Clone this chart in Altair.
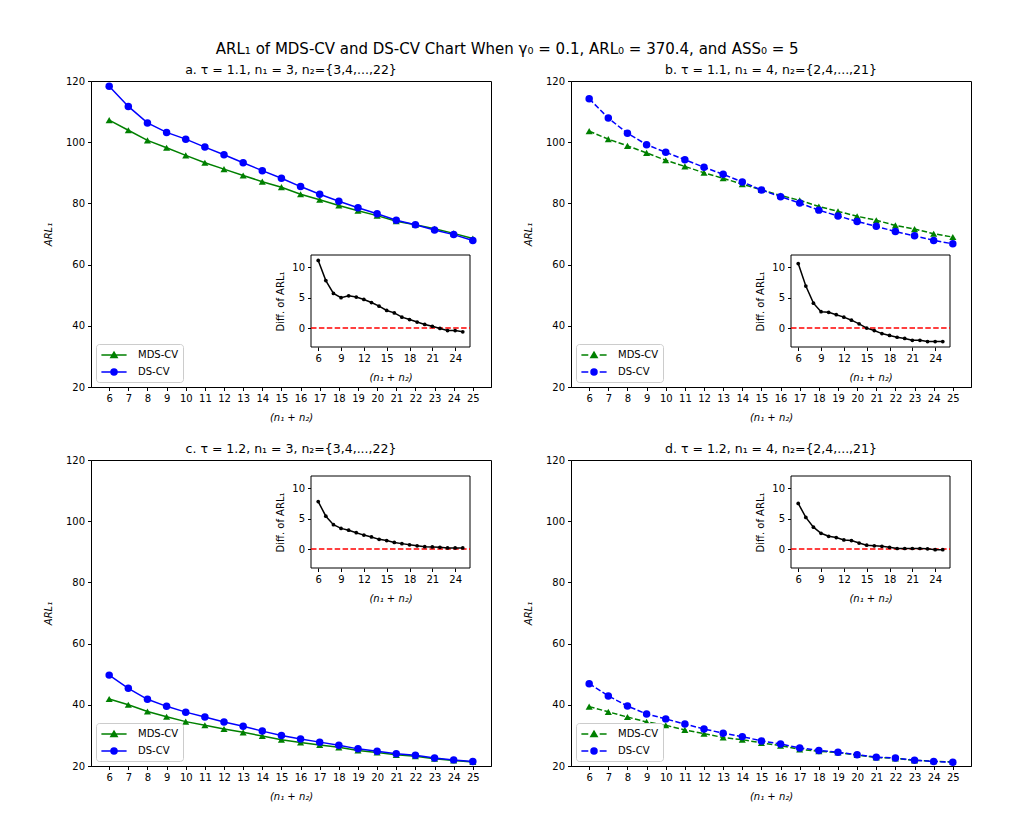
import altair as alt
import pandas as pd

# Total sample size (n1 + n2) on the x axis
n_total = list(range(6, 26))

# ARL1 values, panel a: tau = 1.1, n1 = 3
ds_a = [118.3, 111.7, 106.3, 103.2, 101.0, 98.4, 95.9, 93.3, 90.7, 88.2,
        85.5, 83.0, 80.7, 78.6, 76.6, 74.5, 73.0, 71.3, 69.8, 67.9]
mds_a = [107.2, 103.9, 100.6, 98.2, 95.7, 93.3, 91.2, 89.1, 87.1, 85.3,
         83.0, 81.2, 79.3, 77.6, 76.0, 74.2, 73.05, 71.7, 70.2, 68.5]

# panel b: tau = 1.1, n1 = 4
ds_b = [114.2, 107.9, 102.9, 99.2, 96.7, 94.3, 91.8, 89.5, 87.0, 84.4,
        82.2, 80.1, 77.8, 75.9, 74.1, 72.5, 70.8, 69.4, 67.9, 66.8]
mds_b = [103.6, 101.0, 98.8, 96.5, 94.1, 92.1, 90.0, 88.2, 86.3, 84.4,
         82.6, 81.0, 79.0, 77.4, 75.8, 74.5, 72.8, 71.6, 70.1, 69.0]

# panel c: tau = 1.2, n1 = 3
ds_c = [49.7, 45.4, 41.8, 39.5, 37.6, 36.0, 34.4, 33.0, 31.4, 30.0,
        28.8, 27.8, 26.8, 25.6, 24.8, 24.0, 23.5, 22.6, 22.0, 21.5]
mds_c = [41.9, 40.0, 37.8, 36.1, 34.5, 33.3, 32.1, 31.0, 29.8, 28.6,
         27.7, 26.9, 26.1, 25.05, 24.4, 23.65, 23.2, 22.4, 21.8, 21.3]

# panel d: tau = 1.2, n1 = 4
ds_d = [46.9, 42.9, 39.6, 37.0, 35.4, 33.7, 32.1, 30.7, 29.6, 28.2,
        27.2, 25.9, 25.1, 24.5, 23.7, 22.9, 22.6, 21.9, 21.5, 21.2]
mds_d = [39.4, 37.7, 36.0, 34.4, 33.3, 31.8, 30.6, 29.3, 28.6, 27.55,
         26.65, 25.45, 24.8, 24.4, 23.6, 22.8, 22.5, 21.85, 21.6, 21.3]

panel_titles = [
    "a. τ = 1.1, n₁ = 3, n₂={3,4,...,22}",
    "b. τ = 1.1, n₁ = 4, n₂={2,4,...,21}",
    "c. τ = 1.2, n₁ = 3, n₂={3,4,...,22}",
    "d. τ = 1.2, n₁ = 4, n₂={2,4,...,21}",
]
series_names = ["MDS-CV", "DS-CV"]
main_title = "ARL₁ of MDS-CV and DS-CV Chart When γ₀ = 0.1, ARL₀ = 370.4, and ASS₀ = 5"

FONT = "DejaVu Sans"
W, H = 400, 306
X_DOM = [5.05, 25.95]
INSET_X = [220, 379]
DASH = [5.5, 2.4]

# legend glyphs: a short line with the marker in the middle (unit = 6 px)
TRI = "M0,-0.48L0.52,0.4L-0.52,0.4Z"
CIRC = "M0.5,0A0.5,0.5 0 1,1 -0.5,0A0.5,0.5 0 1,1 0.5,0Z"
SOLID = "M-2.1,0L2.1,0"
DASHED = "M-2.1,0L-0.95,0M0.95,0L2.1,0"


def panel(title, mds, ds, dashed, inset_top):
    df = pd.DataFrame({"n": n_total, "MDS-CV": mds, "DS-CV": ds})
    df["diff"] = df["DS-CV"] - df["MDS-CV"]
    long = df.melt(id_vars="n", value_vars=series_names,
                   var_name="series", value_name="arl")

    x = alt.X("n:Q", scale=alt.Scale(domain=X_DOM, nice=False, zero=False),
              axis=alt.Axis(values=n_total, title="(n₁ + n₂)", titleFontStyle="italic",
                            titlePadding=9))
    y = alt.Y("arl:Q", scale=alt.Scale(domain=[20, 120], nice=False, zero=False),
              axis=alt.Axis(values=[20, 40, 60, 80, 100, 120], title="ARL₁",
                            titleFontStyle="italic", titlePadding=12))
    dash_kw = {"strokeDash": DASH} if dashed else {}

    def line(name, color):
        return (alt.Chart(long).transform_filter(alt.datum.series == name)
                .mark_line(color=color, strokeWidth=1.5, **dash_kw).encode(x=x, y=y))

    mds_line = line("MDS-CV", "green")
    mds_pts = (alt.Chart(long).transform_filter(alt.datum.series == "MDS-CV")
               .mark_point(shape="triangle-up", filled=True, color="green", size=50, opacity=1)
               .encode(x=x, y=y))
    ds_line = line("DS-CV", "blue")
    ds_pts = (alt.Chart(long).transform_filter(alt.datum.series == "DS-CV")
              .mark_point(shape="circle", filled=True, color="blue", size=56, opacity=1)
              .encode(x=x, y=y))

    seg = DASHED if dashed else SOLID
    leg = alt.Legend(orient="bottom-left", offset=5, title=None)
    color_scale = alt.Scale(domain=series_names, range=["green", "blue"])
    legend_layer = (alt.Chart(long).transform_filter("false")
                    .mark_point(filled=True, strokeWidth=1.5, opacity=1)
                    .encode(x=x, y=y,
                            fill=alt.Fill("series:N", scale=color_scale, legend=leg),
                            stroke=alt.Stroke("series:N", scale=color_scale, legend=leg),
                            shape=alt.Shape("series:N",
                                            scale=alt.Scale(domain=series_names,
                                                            range=[seg + TRI, seg + CIRC]),
                                            legend=leg)))

    main = alt.layer(mds_line, mds_pts, ds_line, ds_pts, legend_layer)

    # inset: difference of ARL1 (DS-CV minus MDS-CV)
    inset_bottom = inset_top + 92
    ix_scale = alt.Scale(domain=X_DOM, nice=False, zero=False, range=INSET_X)
    iy_scale = alt.Scale(domain=[-3.1, 12], nice=False, zero=False,
                         range=[inset_bottom, inset_top])
    ix_axis = alt.Axis(orient="bottom", offset=-(H - inset_bottom), values=[6, 9, 12, 15, 18, 21, 24],
                       title="(n₁ + n₂)", titleFontStyle="italic", domain=False, titlePadding=9)
    iy_axis = alt.Axis(orient="left", offset=-INSET_X[0], values=[0, 5, 10],
                       title="Diff. of ARL₁", domain=False, titlePadding=6)
    ix = alt.X("n:Q", scale=ix_scale, axis=ix_axis)
    iy = alt.Y("diff:Q", scale=iy_scale, axis=iy_axis)

    frame = (alt.Chart(pd.DataFrame({"k": [0]}))
             .mark_rect(fill="white", stroke="black", strokeWidth=1)
             .encode(x=alt.XDatum(X_DOM[0], scale=ix_scale, axis=ix_axis),
                     x2=alt.X2Datum(X_DOM[1]),
                     y=alt.YDatum(-3.1, scale=iy_scale, axis=iy_axis),
                     y2=alt.Y2Datum(12)))
    zero = (alt.Chart(pd.DataFrame({"k": [0]}))
            .mark_rule(color="red", strokeDash=DASH, strokeWidth=1.5)
            .encode(x=alt.XDatum(X_DOM[0], scale=ix_scale, axis=ix_axis),
                    x2=alt.X2Datum(X_DOM[1]),
                    y=alt.YDatum(0, scale=iy_scale, axis=iy_axis)))
    dline = alt.Chart(df).mark_line(color="black", strokeWidth=1.5).encode(x=ix, y=iy)
    dpts = alt.Chart(df).mark_circle(color="black", size=14, opacity=1).encode(x=ix, y=iy)
    inset = alt.layer(frame, zero, dline, dpts)

    return (alt.layer(main, inset)
            .resolve_scale(x="independent", y="independent")
            .properties(width=W, height=H,
                        title=alt.TitleParams(title, fontSize=12.5, offset=0, font=FONT,
                                              fontWeight="normal")))


pa = panel(panel_titles[0], mds_a, ds_a, False, 174)
pb = panel(panel_titles[1], mds_b, ds_b, True, 174)
pc = panel(panel_titles[2], mds_c, ds_c, False, 16)
pd_ = panel(panel_titles[3], mds_d, ds_d, True, 16)

indep = dict(fill="independent", stroke="independent", shape="independent")
top = alt.hconcat(pa, pb, spacing=30).resolve_scale(**indep)
bottom = alt.hconcat(pc, pd_, spacing=30).resolve_scale(**indep)

chart = (alt.vconcat(top, bottom, spacing=19)
         .resolve_scale(**indep)
         .properties(title=alt.TitleParams(main_title, fontSize=15, font=FONT,
                                           fontWeight="normal", anchor="middle", offset=6),
                     padding={"left": 42, "top": 42, "right": 5, "bottom": 5})
         .configure_view(stroke="black", strokeWidth=1)
         .configure_axis(labelFont=FONT, labelFontSize=10, titleFont=FONT, titleFontSize=10,
                         titleFontWeight="normal", labelColor="black", titleColor="black",
                         tickColor="black", domainColor="black", tickSize=3.5,
                         labelPadding=3, grid=False)
         .configure_legend(labelFont=FONT, labelFontSize=10, labelColor="black",
                           symbolSize=144, symbolStrokeWidth=1.5, symbolOpacity=1,
                           symbolOffset=7, labelOffset=17,
                           strokeColor="#cccccc", fillColor="white", cornerRadius=3,
                           padding=4, rowPadding=4)
         .configure_title(color="black"))

chart.save("out.html", embed_options={"renderer": "svg", "actions": False})
